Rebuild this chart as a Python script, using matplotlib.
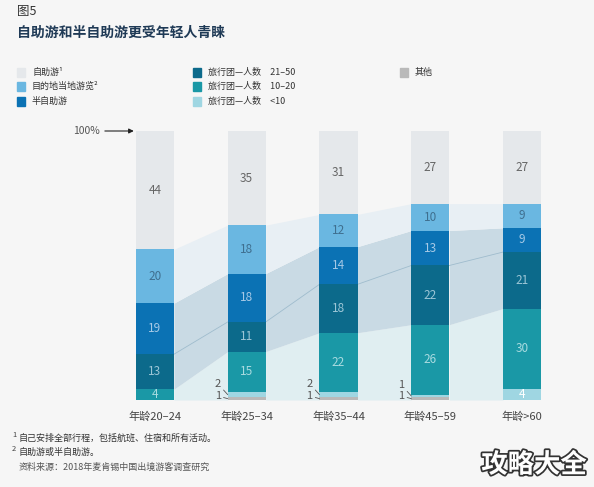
import matplotlib
matplotlib.use('Agg')
import matplotlib.pyplot as plt
import matplotlib.patheffects as pe
import numpy as np

plt.rcParams['font.family'] = ['Noto Sans CJK SC', 'DejaVu Sans']

# data (share of travellers, %), stacked bottom -> top
age_groups = ['年龄20–24', '年龄25–34', '年龄35–44', '年龄45–59', '年龄>60']
other = [0, 1, 1, 1, 0]
group_lt10 = [0, 2, 2, 1, 4]
group_10_20 = [4, 15, 22, 26, 30]
group_21_50 = [13, 11, 18, 22, 21]
semi_self = [19, 18, 14, 13, 9]
destination = [20, 18, 12, 10, 9]
self_guided = [44, 35, 31, 27, 27]

series_labels = ['其他', '旅行团—人数　<10', '旅行团—人数　10–20', '旅行团—人数　21–50',
                 '半自助游', '目的地当地游览²', '自助游¹']
colors = ['#b9b9b9', '#9fd6e2', '#1a98a6', '#0c6a8b', '#0b72b4', '#6ab7e1', '#e5e8eb']
text_colors = ['#555555', '#ffffff', '#a9dbe0', '#9cc6d6', '#a6c9e6', '#3f6f8f', '#666666']

series = [other, group_lt10, group_10_20, group_21_50, semi_self, destination, self_guided]
data = np.array(series, dtype=float)

bg = '#f6f6f6'
fig = plt.figure(figsize=(5.94, 4.87), dpi=100, facecolor=bg)
H = 487.0
ax = fig.add_axes([109 / 594, 1 - 400 / H, 459 / 594, 269 / H], facecolor=bg)
ax.set_xlim(-0.5, 4.5)
ax.set_ylim(0, 100)
ax.axis('off')

x = np.arange(len(age_groups))
w = 0.414
cum = np.vstack([np.zeros(len(x)), np.cumsum(data, axis=0)])

# connecting bands between the bars
top_10_20 = cum[3]
top_21_50 = cum[4]
top_semi = cum[5]
top_dest = cum[6]
for i in range(len(x) - 1):
    xs = [x[i] + w / 2, x[i + 1] - w / 2]
    ax.fill_between(xs, [0, 0], top_10_20[i:i + 2], color='#e0eef1', lw=0, zorder=1)
    ax.fill_between(xs, top_10_20[i:i + 2], top_semi[i:i + 2], color='#c9dae4', lw=0, zorder=1)
    ax.fill_between(xs, top_semi[i:i + 2], top_dest[i:i + 2], color='#e8eff4', lw=0, zorder=1)
    ax.plot(xs, top_21_50[i:i + 2], color='#9fbccd', lw=0.6, zorder=2)

# stacked bars
for k, vals in enumerate(series):
    ax.bar(x, vals, width=w, bottom=cum[k], color=colors[k], lw=0, zorder=3)
    for i, v in enumerate(vals):
        if v >= 3:
            ax.text(x[i], cum[k][i] + v / 2, str(v), ha='center', va='center',
                    fontsize=8.5, color=text_colors[k], zorder=4)

# small values labelled to the left with leader lines
for i in range(len(x)):
    if other[i] > 0 and group_lt10[i] < 3:
        y_other = other[i] / 2
        y_lt10 = other[i] + group_lt10[i] / 2
        ax.annotate(str(group_lt10[i]), xy=(x[i] - w / 2, y_lt10), xytext=(-5, 8),
                    textcoords='offset points', ha='right', va='center', fontsize=8,
                    color='#555555',
                    arrowprops=dict(arrowstyle='-', color='#555555', lw=0.6,
                                    shrinkA=0, shrinkB=0))
        ax.annotate(str(other[i]), xy=(x[i] - w / 2, y_other), xytext=(-5, 2),
                    textcoords='offset points', ha='right', va='center', fontsize=8,
                    color='#555555',
                    arrowprops=dict(arrowstyle='-', color='#555555', lw=0.6,
                                    shrinkA=0, shrinkB=0))

# category labels
for i, lab in enumerate(age_groups):
    ax.text(x[i], -4, lab, ha='center', va='top', fontsize=8, color='#444444')

# 100% marker
ax.text(-0.60, 100, '100%', ha='right', va='center', fontsize=7.5, color='#555555')
ax.annotate('', xy=(-0.23, 100), xytext=(-0.545, 100),
            arrowprops=dict(arrowstyle='-|>', color='#222222', lw=0.8,
                            mutation_scale=7, shrinkA=0, shrinkB=0))

# titles
fig.text(17 / 594, 1 - 12 / H, '图5', ha='left', va='center', fontsize=9, color='#333333')
fig.text(17 / 594, 1 - 33 / H, '自助游和半自助游更受年轻人青睐', ha='left', va='center',
         fontsize=10, color='#1f3a56', fontweight='bold')

# legend
legend_pos = [(17, 72, 6), (17, 86, 5), (17, 101, 4),
              (193, 72, 3), (193, 86, 2), (193, 101, 1), (400, 72, 0)]
for px, py, k in legend_pos:
    fig.patches.append(plt.Rectangle((px / 594, 1 - (py + 4.5) / H), 8 / 594, 9 / H,
                                     transform=fig.transFigure, color=colors[k]))
    fig.text((px + 15) / 594, 1 - py / H, series_labels[k], ha='left', va='center',
             fontsize=6.5, color='#333333')

# footnotes
fig.text(12 / 594, 1 - 435 / H, '1', fontsize=5.5, color='#444444', va='center')
fig.text(19 / 594, 1 - 438 / H, '自己安排全部行程，包括航班、住宿和所有活动。', fontsize=6.5,
         color='#333333', va='center')
fig.text(12 / 594, 1 - 449 / H, '2', fontsize=5.5, color='#444444', va='center')
fig.text(19 / 594, 1 - 452 / H, '自助游或半自助游。', fontsize=6.5, color='#333333', va='center')
fig.text(19 / 594, 1 - 467 / H, '资料来源：2018年麦肯锡中国出境游客调查研究', fontsize=6.5,
         color='#555555', va='center')

# watermark
fig.text(534 / 594, 1 - 465 / H, '攻略大全', ha='center', va='center', fontsize=19,
         fontweight='bold', color='white',
         path_effects=[pe.withStroke(linewidth=2.5, foreground='#333333')])

fig.savefig('out.png', dpi=100, facecolor=bg)
